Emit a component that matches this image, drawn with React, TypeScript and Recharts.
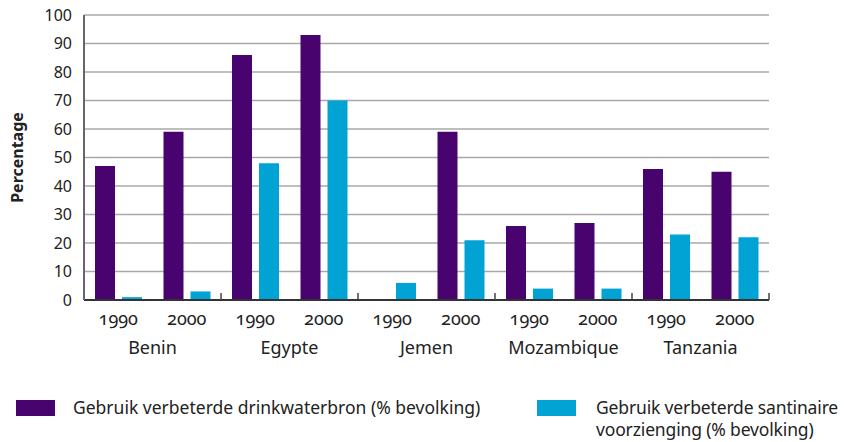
import { BarChart, Bar, XAxis, YAxis, CartesianGrid } from 'recharts';

const countries = ['Benin', 'Egypte', 'Jemen', 'Mozambique', 'Tanzania'];
const years = ['1990', '2000'];
// per country: [1990, 2000]
const drinkwater = [
  [47, 59],
  [86, 93],
  [0, 59],
  [26, 27],
  [46, 45],
];
const sanitair = [
  [1, 3],
  [48, 70],
  [6, 21],
  [4, 4],
  [23, 22],
];
const yTicks = [0, 10, 20, 30, 40, 50, 60, 70, 80, 90, 100];

const seriesNames = {
  drinkwater: 'Gebruik verbeterde drinkwaterbron (% bevolking)',
  sanitair: 'Gebruik verbeterde santinaire voorzienging (% bevolking)',
};

const PURPLE = '#48036e';
const BLUE = '#00a3d4';
const FONT = '"Noto Sans", "Open Sans", sans-serif';

const data = countries.flatMap((country, ci) =>
  years.map((year, yi) => ({
    key: `${country}-${year}`,
    country,
    year,
    drinkwater: drinkwater[ci][yi],
    sanitair: sanitair[ci][yi],
  }))
);

function XTick(props: any) {
  const { x, y, payload, index } = props;
  const half = payload?.offset ?? 34.25;
  const row = data[index];
  const isFirst = index % 2 === 0;
  const isLast = index === data.length - 1;
  return (
    <g>
      <text
        x={x}
        y={y + 17}
        textAnchor="middle"
        fill="#222"
        fontSize={18}
        fontFamily={FONT}
        style={{ fontVariantNumeric: 'oldstyle-nums' }}
      >
        {row.year}
      </text>
      {isFirst && (
        <text x={x + half} y={y + 46} textAnchor="middle" fill="#222" fontSize={18} fontFamily={FONT}>
          {row.country}
        </text>
      )}
      {isFirst && index > 0 && (
        <line x1={x - half} x2={x - half} y1={y - 15} y2={y - 8} stroke="#444" strokeWidth={1.5} />
      )}
      {isLast && <line x1={x + half} x2={x + half} y1={y - 15} y2={y - 8} stroke="#444" strokeWidth={1.5} />}
    </g>
  );
}

function ChartLegend() {
  return (
    <div
      style={{
        position: 'absolute',
        left: 0,
        top: 396,
        width: 847,
        height: 46,
        fontFamily: FONT,
        fontSize: 17.5,
        color: '#222',
      }}
    >
      <div style={{ position: 'absolute', left: 16, top: 4, width: 39, height: 16, background: PURPLE }} />
      <div style={{ position: 'absolute', left: 73, top: 0, lineHeight: '22px', whiteSpace: 'nowrap' }}>
        {seriesNames.drinkwater}
      </div>
      <div style={{ position: 'absolute', left: 537, top: 4, width: 39, height: 16, background: BLUE }} />
      <div
        style={{
          position: 'absolute',
          left: 596,
          top: 0,
          width: 250,
          lineHeight: '22px',
          whiteSpace: 'nowrap',
          letterSpacing: -0.15,
        }}
      >
        Gebruik verbeterde santinaire
        <br />
        voorzienging (% bevolking)
      </div>
    </div>
  );
}

export default function App() {
  return (
    <div style={{ position: 'absolute', left: 0, top: 0, width: 847, height: 442, background: '#fff', overflow: 'hidden' }}>
      <BarChart
        width={847}
        height={442}
        data={data}
        margin={{ top: 15, right: 78, bottom: 82, left: 34 }}
        barSize={20}
        barGap={7}
      >
        <CartesianGrid vertical={false} stroke="#a8a8a8" strokeWidth={1.5} />
        <XAxis
          dataKey="key"
          interval={0}
          height={60}
          tick={<XTick />}
          tickLine={false}
          axisLine={{ stroke: '#333', strokeWidth: 2 }}
        />
        <YAxis
          domain={[0, 100]}
          ticks={yTicks}
          interval={0}
          width={50}
          tickLine={false}
          axisLine={{ stroke: '#666', strokeWidth: 2 }}
          tick={{ fill: '#222', fontSize: 16, fontFamily: FONT, dx: -4 }}
          label={{
            value: 'Percentage',
            angle: -90,
            position: 'insideLeft',
            offset: 0,
            dx: -17,
            style: { textAnchor: 'middle', fill: '#222', fontSize: 16, fontWeight: 700, fontFamily: FONT },
          }}
        />
        <Bar dataKey="drinkwater" name={seriesNames.drinkwater} fill={PURPLE} isAnimationActive={false} />
        <Bar dataKey="sanitair" name={seriesNames.sanitair} fill={BLUE} isAnimationActive={false} />
      </BarChart>
      <ChartLegend />
    </div>
  );
}
